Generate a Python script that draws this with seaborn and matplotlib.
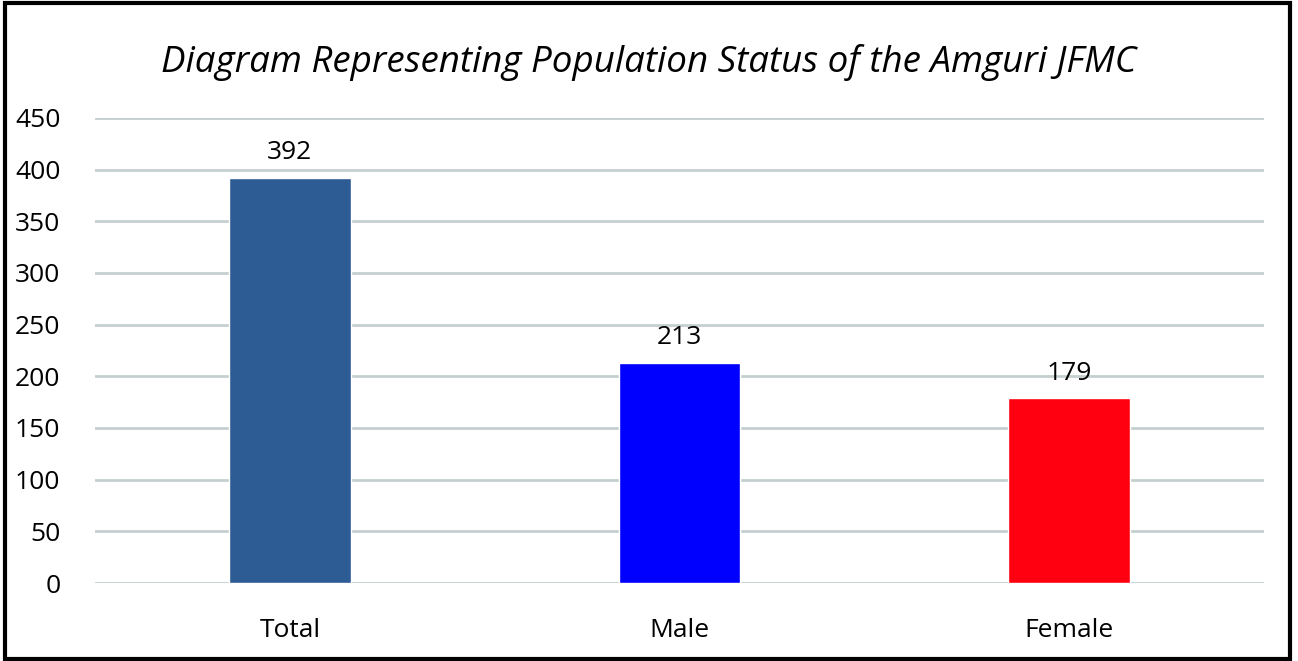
import matplotlib
matplotlib.use("Agg")
import matplotlib.pyplot as plt
import seaborn as sns
import pandas as pd
from matplotlib.patches import Rectangle

CATEGORIES = ["Total", "Male", "Female"]
COUNTS = [392, 213, 179]
BAR_COLORS = ["#2D5B93", "#0000FF", "#FF0010"]
Y_TICKS = [0, 50, 100, 150, 200, 250, 300, 350, 400, 450]
TITLE = "Diagram Representing Population Status of the Amguri JFMC"


def main():
    sns.set_theme(style="white")
    plt.rcParams["font.family"] = ["Open Sans", "DejaVu Sans"]

    df = pd.DataFrame({"group": CATEGORIES, "count": COUNTS})

    fig = plt.figure(figsize=(12.98, 6.61), dpi=100)
    ax = fig.add_axes([0.0732, 0.118, 0.9006, 0.7035])

    sns.barplot(
        data=df,
        x="group",
        y="count",
        hue="group",
        palette=BAR_COLORS,
        width=0.313,
        saturation=1,
        legend=False,
        ax=ax,
        zorder=3,
    )

    ax.set_ylim(0, 450)
    ax.set_xlim(-0.5, 2.5)
    ax.set_yticks(Y_TICKS)
    ax.grid(axis="y", color="#C5CFCF", linewidth=2, zorder=0)
    ax.set_axisbelow(True)
    for side in ["top", "right", "left", "bottom"]:
        ax.spines[side].set_visible(False)
    ax.tick_params(axis="y", length=0, pad=25, labelsize=19, labelcolor="#000000")
    ax.tick_params(axis="x", length=0, pad=25, labelsize=19, labelcolor="#000000")
    ax.set_xlabel("")
    ax.set_ylabel("")

    for container in ax.containers:
        ax.bar_label(container, padding=9, fontsize=19, color="#000000")

    fig.text(0.5, 0.905, TITLE, ha="center", va="center", fontsize=26.5,
             style="italic", color="#000000")

    fig.patches.append(Rectangle((0.004, 0.003), 0.99, 0.992, transform=fig.transFigure,
                                 fill=False, edgecolor="black", linewidth=3))

    fig.savefig("out.png", dpi=100)


if __name__ == "__main__":
    main()
